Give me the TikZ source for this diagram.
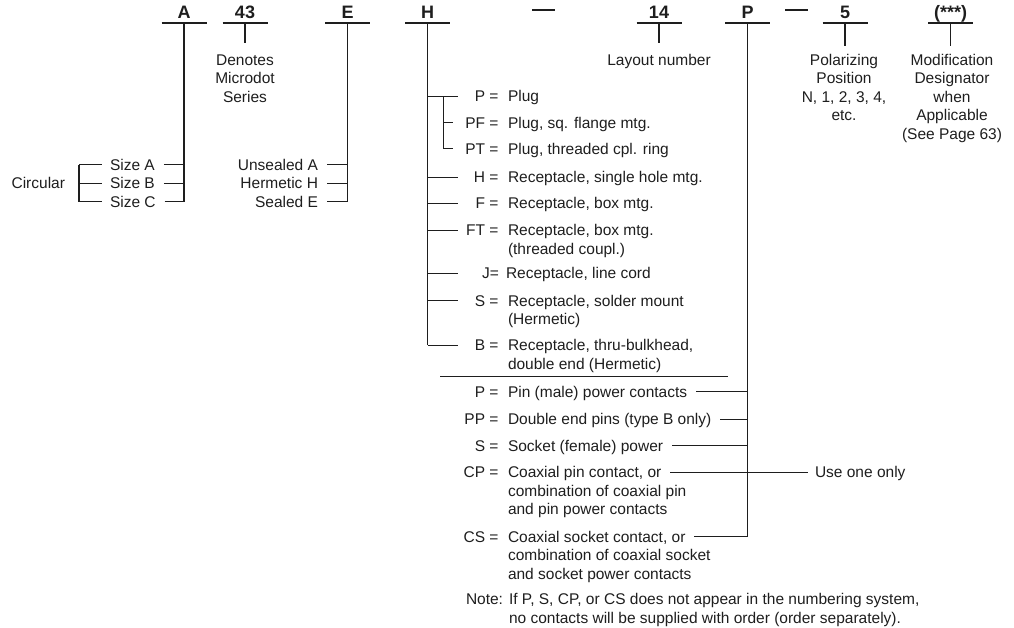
\documentclass[tikz,border=0pt]{standalone}
\usepackage{fontspec}
\setmainfont{Liberation Sans}
\usetikzlibrary{calc}
\definecolor{ink}{RGB}{30,30,30}
\newcommand{\fs}{\fontsize{15.5}{18.5}\selectfont}
\newcommand{\mlines}[1]{\begin{tabular}[t]{@{}l@{}}#1\end{tabular}}
\newcommand{\mcent}[1]{\begin{tabular}[t]{@{}c@{}}#1\end{tabular}}
\begin{document}
\begin{tikzpicture}[x=1pt,y=-1pt,
  t/.style={font=\fs, text=ink, inner sep=0pt, outer sep=0pt, text height=11pt, text depth=0pt},
  code/.style={t, anchor=east},
  desc/.style={t, anchor=west},
  toplab/.style={font=\fontsize{18}{18}\selectfont\bfseries, text=ink, anchor=south, inner xsep=0pt, inner ysep=4.5pt, outer sep=0pt, text height=13pt, text depth=0pt},
  ln/.style={draw=ink, line width=1.1pt},
  tk/.style={draw=ink, line width=0.9pt}]
\useasboundingbox (0,0) rectangle (1014,627);

% ---------- top code letters ----------
\node[toplab] (A)   at (184,23)   {A};
\node[toplab] (N43) at (245,23)   {43};
\node[toplab] (E)   at (347.5,23) {E};
\node[toplab] (H)   at (427.5,23) {H};
\node[toplab] (L14) at (659,23)   {14};
\node[toplab] (P)   at (747.5,23) {P};
\node[toplab] (N5)  at (845,23)   {5};
\node[toplab] (M)   at (950.5,23) {(***)};
\foreach \n in {A,N43,E,H,L14,P,N5,M}
  \draw[ln] ($(\n.south)+(-22.5,0)$) -- ($(\n.south)+(22.5,0)$);
% dashes of the part number
\coordinate (d1a) at (532,10); \coordinate (d1b) at (555,10);
\coordinate (d2a) at (785,10); \coordinate (d2b) at (808,10);
\draw[ln] (d1a) -- (d1b);
\draw[ln] (d2a) -- (d2b);

% ---------- descriptive texts under short stubs ----------
\node[t, anchor=center] (den) at (245,59.5) {\mcent{Denotes\\Microdot\\Series}};
\node[t, anchor=center] (lay) at (659,59.5) {Layout number};
\node[t, anchor=center] (pol) at (844,59.5) {\mcent{Polarizing\\Position\\N, 1, 2, 3, 4,\\etc.}};
\node[t, anchor=center] (mod) at (952,59.5) {\mcent{Modification\\Designator\\when\\Applicable\\(See Page 63)}};
\draw[ln] (N43.south) -- (N43.south |- 0,43.3);
\draw[ln] (L14.south) -- (L14.south |- 0,43.3);
\draw[ln] (N5.south)  -- (N5.south |- 0,46);
\draw[ln] (M.south)   -- (M.south |- 0,46);

% ---------- A : size ----------
\node[desc] (sA) at (110,164.5) {Size A};
\node[desc] (sB) at (110,183)   {Size B};
\node[desc] (sC) at (110,201.5) {Size C};
\draw[ln] (A.south) -- (A.south |- sC.east);
\foreach \s in {sA,sB,sC}
  \draw[tk] ($(\s.east)+(9,0)$) -- (\s.east -| A.south);
\coordinate (br) at (79,183);
\draw[ln] (br |- sA.west) -- (br |- sC.west);
\foreach \s in {sA,sB,sC}
  \draw[tk] (br |- \s.west) -- ($(\s.west)+(-8,0)$);
\node[t, anchor=east] (circ) at ($(br)+(-14,0)$) {Circular};

% ---------- E : sealing ----------
\node[code] (eA) at (318,164.5) {Unsealed A};
\node[code] (eH) at (318,183)   {Hermetic H};
\node[code] (eE) at (318,201.5) {Sealed E};
\draw[ln] (E.south) -- (E.south |- eE.east);
\foreach \s in {eA,eH,eE}
  \draw[tk] ($(\s.east)+(9,0)$) -- (\s.east -| E.south);

% ---------- H : shell type ----------
\node[code] (c1) at (498.5,96)    {P =};   \node[desc] (h1) at (508,96)    {Plug};
\node[code] (c2) at (498.5,122.5) {PF =};  \node[desc] (h2) at (508,122.5) {Plug, sq. flange mtg.};
\node[code] (c3) at (498.5,148.5) {PT =};  \node[desc] (h3) at (508,148.5) {Plug, threaded cpl. ring};
\node[code] (c4) at (498.5,177)   {H =};   \node[desc] (h4) at (508,177)   {Receptacle, single hole mtg.};
\node[code] (c5) at (498.5,203.3) {F =};   \node[desc] (h5) at (508,203.3) {Receptacle, box mtg.};
\node[code] (c6) at (498.5,230)   {FT =};  \node[desc] (h6) at (508,230)   {\mlines{Receptacle, box mtg.\\(threaded coupl.)}};
\node[code] (c7) at (499,273.3)   {J=};    \node[desc] (h7) at (506,273.3) {Receptacle, line cord};
\node[code] (c8) at (498.5,300.5) {S =};   \node[desc] (h8) at (508,300.5) {\mlines{Receptacle, solder mount\\(Hermetic)}};
\node[code] (c9) at (498.5,345)   {B =};   \node[desc] (h9) at (508,345)   {\mlines{Receptacle, thru-bulkhead,\\double end (Hermetic)}};
\draw[ln] (H.south) -- (H.south |- c9.west);
\foreach \c in {c1,c4,c5,c6,c7,c8,c9}
  \draw[tk] (\c.west -| H.south) -- ++(30,0);
\coordinate (ib) at (443,96);
\draw[tk] (ib) -- (ib |- c3.west) -- ++(10,0);
\draw[tk] (ib |- c2.west) -- ++(10,0);

% separator rule
\coordinate (r1) at (440,376.7); \coordinate (r2) at (728,376.7);
\draw[draw=ink, line width=1.3pt] (r1) -- (r2);

% ---------- P : contacts ----------
\node[code] (k1) at (498.5,391.7) {P =};  \node[desc] (p1) at (508,391.7) {Pin (male) power contacts};
\node[code] (k2) at (498.5,419.3) {PP =}; \node[desc] (p2) at (508,419.3) {Double end pins (type B only)};
\node[code] (k3) at (498.5,445.7) {S =};  \node[desc] (p3) at (508,445.7) {Socket (female) power};
\node[code] (k4) at (498.5,472.3) {CP =}; \node[desc] (p4) at (508,472.3) {Coaxial pin contact, or};
\node[desc] (p4b) at (508,490.8) {\mlines{combination of coaxial pin\\and pin power contacts}};
\node[code] (k5) at (498.5,536.5) {CS =}; \node[desc] (p5) at (508,536.5) {Coaxial socket contact, or};
\node[desc] (p5b) at (508,555) {\mlines{combination of coaxial socket\\and socket power contacts}};
\node[desc] (k6) at (466,599) {Note:};
\node[desc] (p6) at (509,599) {\mlines{If P, S, CP, or CS does not appear in the numbering system,\\no contacts will be supplied with order (order separately).}};
\node[desc] (use) at (815,472.3) {Use one only};
\draw[ln] (P.south) -- (P.south |- p5.east);
\foreach \p in {p1,p2,p3,p5}
  \draw[tk] ($(\p.east)+(9,0)$) -- (\p.east -| P.south);
\draw[tk] ($(p4.east)+(9,0)$) -- ($(use.west)+(-7,0)$);
\end{tikzpicture}
\end{document}
